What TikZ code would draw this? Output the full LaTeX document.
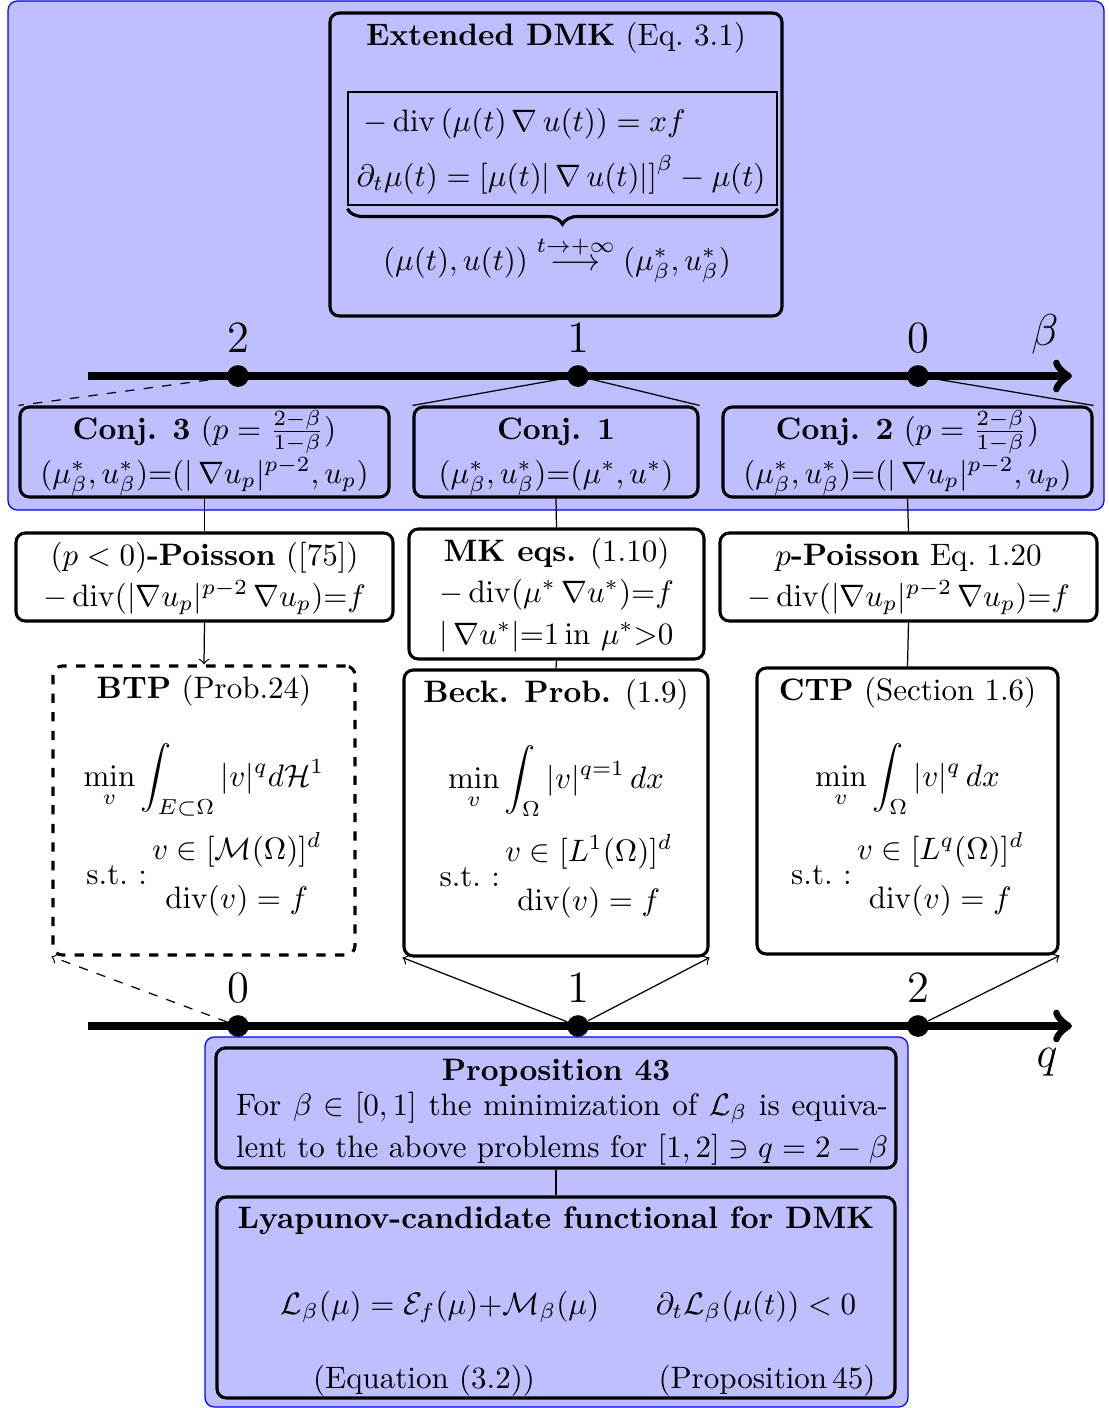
\documentclass[tikz,border=0pt]{standalone}
\usepackage{amsmath}
\usetikzlibrary{fit,decorations.pathreplacing}

\begin{document}
\begin{tikzpicture}[x=0.3226pt,y=-0.3226pt,
  bluebg/.style={draw=blue, fill=blue!25, rounded corners=3pt, line width=0.4pt, inner sep=0pt},
  panel/.style={draw=black, line width=1pt, rounded corners=3pt, inner sep=0pt},
  dpanel/.style={panel, dashed},
  thinbox/.style={draw=black, line width=0.4pt, inner sep=0pt},
  axisline/.style={line width=2.6pt, ->},
  tickdot/.style={circle, fill=black, inner sep=0pt, minimum size=7pt},
  axlabel/.style={font=\Large, inner sep=0pt},
  link/.style={line width=0.4pt},
  txt/.style={inner sep=0pt, anchor=base}]

\useasboundingbox (0,0) rectangle (1109,1408);

% shaded regions
\node[bluebg, fit={(8,1) (1104,510)}] (upperbg) {};
\node[bluebg, fit={(205,1037) (908,1407)}] (lowerbg) {};

% extended DMK panel
\node[panel, fit={(330,13) (782,316)}] (dmk) {};
\node[txt] (dmktitle) at (556,45) {\textbf{Extended DMK} (Eq.~3.1)};
\node[thinbox, fit={(348,92) (777,205)}] (sys) {};
\node[txt, anchor=base west] (eqa) at (363,131)
  {$-\operatorname{div}\left(\mu(t)\,\nabla\,u(t)\right)=xf$};
\node[txt, anchor=base west] (eqb) at (356,186)
  {$\partial_t\mu(t)=\left[\mu(t)|\,\nabla\,u(t)|\right]^\beta-\mu(t)$};
\draw[decorate, decoration={brace, mirror, amplitude=5pt}, line width=1pt]
  ([yshift=-1pt]sys.south west) -- ([yshift=-1pt]sys.south east);
\node[txt] (limit) at (557,270)
  {$(\mu(t),u(t))\stackrel{t\to+\infty}{\longrightarrow}(\mu^*_\beta,u^*_\beta)$};

% beta axis
\coordinate (bstart) at (88,376);
\coordinate (bend) at (1072,376);
\draw[axisline] (bstart) -- (bend);
\node[tickdot] (b2) at (238,376) {};
\node[tickdot] (b1) at (578,376) {};
\node[tickdot] (b0) at (918,376) {};
\node[axlabel] (lb2) at (238,338) {$2$};
\node[axlabel] (lb1) at (578,338) {$1$};
\node[axlabel] (lb0) at (918,338) {$0$};
\node[axlabel] (lbeta) at (1045,334) {$\beta$};

% conjectures
\node[panel, fit={(20,407) (389,497)}] (conj3) {};
\node[txt] (c3a) at (204.5,439) {\textbf{Conj. 3} ($p=\frac{2-\beta}{1-\beta}$)};
\node[txt] (c3b) at (204.5,483) {$(\mu^*_\beta,u^*_\beta){=}(|\,\nabla u_p|^{p-2},u_p)$};
\node[panel, fit={(414,407) (698,497)}] (conj1) {};
\node[txt] (c1a) at (556,439) {\textbf{Conj. 1}};
\node[txt] (c1b) at (556,483) {$(\mu^*_\beta,u^*_\beta){=}(\mu^*,u^*)$};
\node[panel, fit={(723,407) (1092,497)}] (conj2) {};
\node[txt] (c2a) at (907.5,439) {\textbf{Conj. 2} ($p=\frac{2-\beta}{1-\beta}$)};
\node[txt] (c2b) at (907.5,483) {$(\mu^*_\beta,u^*_\beta){=}(|\,\nabla u_p|^{p-2},u_p)$};

\draw[link, dashed] (b2) -- (conj3.north west);
\draw[link] (b1) -- (conj1.north west);
\draw[link] (b1) -- (conj1.north east);
\draw[link] (b0) -- (conj2.north east);

% equations
\node[panel, fit={(16,533) (393,621)}] (pneg) {};
\node[txt] (pna) at (204.5,565) {$(p<0)$\textbf{-Poisson} ([75])};
\node[txt] (pnb) at (204.5,606) {$-\operatorname{div}(|\nabla u_p|^{p{-}2}\,\nabla u_p){=}f$};
\node[panel, fit={(409,529) (704,659)}] (mk) {};
\node[txt] (mka) at (556.5,561) {\textbf{MK eqs.} (1.10)};
\node[txt] (mkb) at (556.5,602) {$-\operatorname{div}(\mu^*\,\nabla u^*){=}f$};
\node[txt] (mkc) at (556.5,644) {$|\,\nabla u^*|{=}1\,\mathrm{in}\ \mu^*{>}0$};
\node[panel, fit={(720,533) (1097,621)}] (ppois) {};
\node[txt] (ppa) at (908.5,565) {$p$\textbf{-Poisson} Eq.~1.20};
\node[txt] (ppb) at (908.5,606) {$-\operatorname{div}(|\nabla u_p|^{p{-}2}\,\nabla u_p){=}f$};

\draw[link] (conj3.south) -- (pneg.north);
\draw[link] (conj1.south) -- (mk.north);
\draw[link] (conj2.south) -- (ppois.north);

% transport problems
\node[dpanel, fit={(53,666) (355,955)}] (btp) {};
\node[txt] (bta) at (204,698) {\textbf{BTP} (Prob.24)};
\node[txt] (btb) at (204,786) {$\displaystyle\min_v\int_{E\subset\Omega}|v|^q d\mathcal{H}^1$};
\node[txt] (btc) at (204,884) {s.t.\ :\,$\begin{array}{@{}c@{}} v\in[\mathcal{M}(\Omega)]^d\\[4pt] \operatorname{div}(v)=f\end{array}$};
\node[panel, fit={(404,670) (708,956)}] (beck) {};
\node[txt] (bka) at (556,702) {\textbf{Beck. Prob.} (1.9)};
\node[txt] (bkb) at (556,788) {$\displaystyle\min_v\int_{\Omega}|v|^{q=1}\,dx$};
\node[txt] (bkc) at (556,886) {s.t.\ :\,$\begin{array}{@{}c@{}} v\in[L^1(\Omega)]^d\\[4pt] \operatorname{div}(v)=f\end{array}$};
\node[panel, fit={(757,668) (1058,954)}] (ctp) {};
\node[txt] (cta) at (907.5,700) {\textbf{CTP} (Section 1.6)};
\node[txt] (ctb) at (907.5,786) {$\displaystyle\min_v\int_{\Omega}|v|^{q}\,dx$};
\node[txt] (ctc) at (907.5,884) {s.t.\ :\,$\begin{array}{@{}c@{}} v\in[L^q(\Omega)]^d\\[4pt] \operatorname{div}(v)=f\end{array}$};

\draw[link, ->] (pneg.south) -- (btp.north);
\draw[link] (mk.south) -- (beck.north);
\draw[link] (ppois.south) -- (ctp.north);

% q axis
\coordinate (qstart) at (88,1026);
\coordinate (qend) at (1072,1026);
\draw[axisline] (qstart) -- (qend);
\node[tickdot] (q0) at (238,1026) {};
\node[tickdot] (q1) at (578,1026) {};
\node[tickdot] (q2) at (918,1026) {};
\node[axlabel] (lq0) at (238,988) {$0$};
\node[axlabel] (lq1) at (578,988) {$1$};
\node[axlabel] (lq2) at (918,988) {$2$};
\node[axlabel] (lq) at (1047,1062) {$q$};

\draw[link, dashed, ->] (q0) -- (btp.south west);
\draw[link, ->] (q1) -- (beck.south west);
\draw[link, ->] (q1) -- (beck.south east);
\draw[link, ->] (q2) -- (ctp.south east);

% equivalence and Lyapunov functional
\node[panel, fit={(216,1048) (896,1168)}] (prop) {};
\node[txt] (pra) at (556,1080) {\textbf{Proposition 43}};
\node[txt] (prb) at (562,1115) {\makebox[210.3pt][s]{For $\beta\in[0,1]$ the minimization of $\mathcal{L}_\beta$ is equiva-}};
\node[txt] (prc) at (562,1157) {\makebox[210.3pt][s]{lent to the above problems for $[1,2]\ni q=2-\beta$}};
\node[panel, fit={(217,1197) (895,1398)}] (lyap) {};
\node[txt] (lya) at (556,1228) {\textbf{Lyapunov-candidate functional for DMK}};
\node[txt] (lyb) at (440,1314) {$\mathcal{L}_\beta(\mu)=\mathcal{E}_f(\mu){+}\mathcal{M}_\beta(\mu)$};
\node[txt] (lyc) at (756,1314) {$\partial_t\mathcal{L}_\beta(\mu(t))<0$};
\node[txt] (lyd) at (424,1388) {(Equation (3.2))};
\node[txt] (lye) at (767,1388) {(Proposition\,45)};

\draw[link] (prop.south) -- (lyap.north);
\end{tikzpicture}
\end{document}
